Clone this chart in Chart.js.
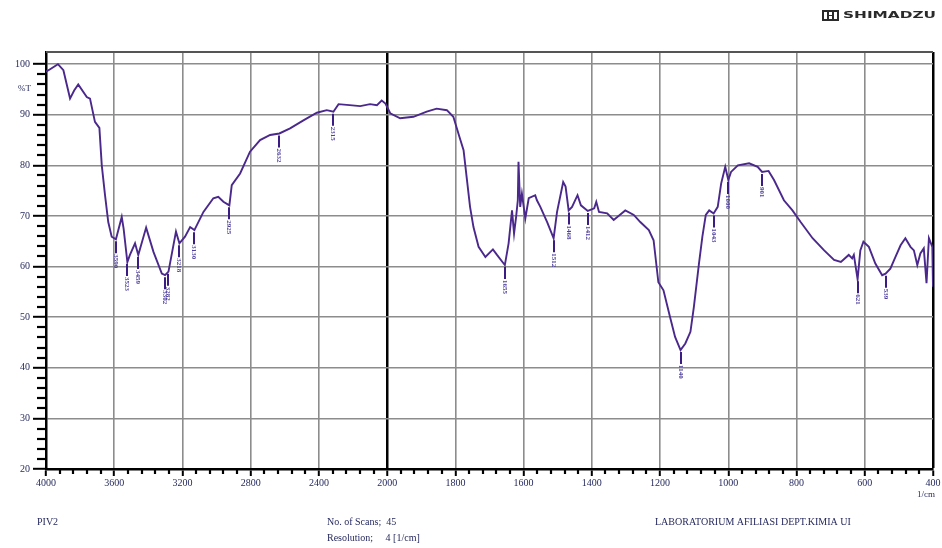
<!DOCTYPE html>
<html>
<head>
<meta charset="utf-8">
<script src="https://cdn.jsdelivr.net/npm/chart.js@4.4.1/dist/chart.umd.min.js"></script>
<style>
  html, body { margin: 0; padding: 0; background: #fff; }
  #wrap { position: relative; width: 942px; height: 548px; }
  canvas { display: block; }
</style>
</head>
<body>
<div id="wrap"><canvas id="ir" width="942" height="548"></canvas></div>
<script>
// FTIR spectrum, sample PIV2 (wavenumber in 1/cm, transmittance in %T)
const wavenumbers = [
  4000, 3976, 3930, 3898, 3859, 3835, 3811, 3761, 3742, 3713, 3687, 3673, 3654, 3635, 3615,
  3590, 3556, 3545, 3523, 3508, 3478, 3459, 3413, 3370, 3321, 3302, 3282, 3238, 3218, 3185,
  3155, 3130, 3077, 3019, 2990, 2960, 2925, 2911, 2862, 2804, 2745, 2686, 2632, 2569, 2491,
  2412, 2354, 2315, 2285, 2220, 2158, 2100, 2060, 2032, 2010, 1991, 1962, 1923, 1884, 1855,
  1825, 1806, 1788, 1776, 1766, 1757, 1747, 1732, 1712, 1690, 1678, 1662, 1655, 1644, 1634,
  1628, 1622, 1617, 1615, 1610, 1605, 1595, 1585, 1566, 1561, 1551, 1531, 1512, 1502, 1484,
  1477, 1468, 1458, 1442, 1432, 1412, 1393, 1387, 1379, 1355, 1336, 1302, 1277, 1258, 1233,
  1219, 1205, 1190, 1171, 1156, 1140, 1126, 1111, 1101, 1086, 1076, 1066, 1056, 1043, 1031,
  1021, 1009, 1000, 992, 972, 939, 914, 901, 882, 866, 837, 812, 788, 753, 719,
  690, 670, 647, 637, 632, 621, 613, 604, 588, 569, 549, 539, 525, 510, 495,
  481, 466, 456, 446, 437, 427, 419, 412, 402, 400
];
const transmittance = [
  98.5, 99.0, 100.0, 98.8, 93.2, 94.8, 96.0, 93.5, 93.2, 88.6, 87.4, 80.0, 74.1, 68.8, 65.9,
  65.4, 69.8, 67.5, 60.9, 62.3, 64.6, 62.3, 67.7, 62.9, 58.6, 58.3, 59.0, 66.9, 64.6, 65.9,
  67.8, 67.2, 70.8, 73.5, 73.8, 72.8, 72.1, 76.1, 78.4, 82.7, 85.0, 86.0, 86.3, 87.3, 88.9,
  90.4, 90.9, 90.6, 92.1, 91.9, 91.7, 92.1, 91.9, 92.8, 92.2, 90.3, 89.3, 89.6, 90.6, 91.2,
  90.9, 89.6, 85.6, 83.0, 77.1, 71.8, 67.8, 63.9, 61.9, 63.4, 62.3, 60.9, 60.3, 64.6, 71.1,
  66.5, 69.8, 73.1, 80.7, 71.8, 74.4, 69.5, 73.5, 74.1, 73.1, 71.8, 68.8, 65.6, 70.8, 76.7,
  75.8, 71.1, 71.8, 74.1, 72.1, 71.0, 71.5, 72.8, 70.8, 70.5, 69.2, 71.1, 70.2, 68.8, 67.2,
  65.2, 56.9, 55.3, 50.1, 46.1, 43.5, 44.8, 47.1, 52.0, 60.6, 65.9, 70.2, 71.1, 70.5, 71.8,
  76.4, 79.7, 77.1, 78.7, 80.0, 80.4, 79.7, 78.7, 78.9, 77.1, 73.1, 71.1, 68.8, 65.6, 63.2,
  61.3, 60.9, 62.3, 61.6, 62.3, 57.5, 63.2, 64.9, 63.9, 60.6, 58.3, 58.6, 59.6, 61.9, 64.2,
  65.6, 63.9, 63.2, 60.3, 62.6, 63.6, 56.7, 65.6, 63.9, 56.0
];
// Picked absorption bands (each one is a point of the spectrum above)
const peakWavenumbers = [
  3590, 3523, 3459, 3302, 3282, 3218, 3130, 2925, 2632, 2315,
  1655, 1512, 1468, 1412, 1140, 1043, 1000, 901, 621, 539
];
const xTickLabels = ['4000', '3600', '3200', '2800', '2400', '2000', '1800',
                     '1600', '1400', '1200', '1000', '800', '600', '400'];
const yTickValues = [20, 30, 40, 50, 60, 70, 80, 90, 100];

// Two-segment wavenumber axis: 400 1/cm per division above 2000, 200 1/cm per division below
function toAxis(w) {
  return w >= 2000 ? (4000 - w) / 400 : 5 + (2000 - w) / 200;
}

const INK = '#262a5e';
const CURVE = '#4a288c';
const SERIF = '"Liberation Serif", "DejaVu Serif", serif';

const spectrum = wavenumbers.map((w, i) => ({ x: toAxis(w), y: transmittance[i] }));

const framePlugin = {
  id: 'frame',
  beforeDatasetsDraw(chart) {
    const { ctx, chartArea: a, scales: { x, y } } = chart;
    ctx.save();
    // top frame line
    ctx.strokeStyle = '#555';
    ctx.lineWidth = 2;
    ctx.beginPath();
    ctx.moveTo(a.left, a.top);
    ctx.lineTo(a.right, a.top);
    ctx.stroke();
    // minor ticks on the wavenumber axis (5 subdivisions)
    ctx.strokeStyle = '#000';
    ctx.lineWidth = 2.2;
    for (let i = 0; i < xTickLabels.length - 1; i++) {
      for (let k = 1; k < 5; k++) {
        const px = Math.round(x.getPixelForValue(i + k / 5));
        ctx.beginPath();
        ctx.moveTo(px, a.bottom);
        ctx.lineTo(px, a.bottom + 5);
        ctx.stroke();
      }
    }
    // minor ticks on the transmittance axis (every 2 %T)
    for (let v = 22; v < 102; v += 2) {
      if (v % 10 === 0) continue;
      const py = Math.round(y.getPixelForValue(v));
      ctx.beginPath();
      ctx.moveTo(a.left - 9, py);
      ctx.lineTo(a.left, py);
      ctx.stroke();
    }
    ctx.restore();
  },
  afterDatasetsDraw(chart) {
    const { ctx, scales: { x, y } } = chart;
    ctx.save();
    // band markers with their wavenumbers
    peakWavenumbers.forEach(w => {
      const i = wavenumbers.indexOf(w);
      const px = Math.round(x.getPixelForValue(toAxis(w)));
      const py = y.getPixelForValue(transmittance[i]);
      ctx.strokeStyle = '#3a1c84';
      ctx.lineWidth = 2;
      ctx.beginPath();
      ctx.moveTo(px, py + 2);
      ctx.lineTo(px, py + 14);
      ctx.stroke();
      ctx.save();
      ctx.translate(px, py + 15);
      ctx.rotate(Math.PI / 2);
      ctx.fillStyle = '#4f3f9c';
      ctx.font = 'bold 7px ' + SERIF;
      ctx.textAlign = 'left';
      ctx.textBaseline = 'middle';
      ctx.fillText(String(w), 0, 0);
      ctx.restore();
    });
    ctx.restore();
  },
  afterDraw(chart) {
    const { ctx, chartArea: a, scales: { y } } = chart;
    ctx.save();
    ctx.fillStyle = INK;
    ctx.textBaseline = 'middle';
    ctx.font = '9px ' + SERIF;
    ctx.textAlign = 'right';
    ctx.fillText('%T', 31, y.getPixelForValue(100) + 24);
    ctx.fillText('1/cm', a.right + 2, a.bottom + 26);

    ctx.textAlign = 'left';
    ctx.font = '10px ' + SERIF;
    ctx.fillText('PIV2', 37, 522);
    ctx.fillText('No. of Scans;  45', 327, 522);
    ctx.fillText('Resolution;     4 [1/cm]', 327, 538);
    ctx.fillText('LABORATORIUM AFILIASI DEPT.KIMIA UI', 655, 522);

    // instrument maker mark
    ctx.fillStyle = '#2a2a2a';
    ctx.fillRect(822, 10, 17, 11);
    ctx.fillStyle = '#fff';
    ctx.fillRect(824, 12, 3, 7);
    ctx.fillRect(834, 12, 3, 7);
    ctx.fillRect(829, 12, 3, 3);
    ctx.fillRect(829, 16, 3, 3);
    ctx.fillStyle = '#2a2a2a';
    ctx.font = 'bold 11px "DejaVu Sans", sans-serif';
    const label = 'SHIMADZU';
    const wTxt = ctx.measureText(label).width;
    ctx.save();
    ctx.translate(843, 16);
    ctx.scale(93 / wTxt, 0.85);
    ctx.fillText(label, 0, 0);
    ctx.restore();
    ctx.restore();
  }
};

new Chart(document.getElementById('ir'), {
  type: 'line',
  data: {
    datasets: [{
      data: spectrum,
      borderColor: CURVE,
      borderWidth: 1.9,
      pointRadius: 0,
      tension: 0,
      fill: false
    }]
  },
  options: {
    responsive: false,
    animation: false,
    devicePixelRatio: 1,
    layout: { padding: { top: 52, right: 9, left: 0, bottom: 0 } },
    plugins: { legend: { display: false }, tooltip: { enabled: false } },
    scales: {
      x: {
        type: 'linear',
        min: 0,
        max: xTickLabels.length - 1,
        afterFit(scale) { scale.height = 79; },
        border: { color: '#000', width: 2.5 },
        grid: {
          color: c => (c.tick && (c.tick.value === 5 || c.tick.value === 13)) ? '#000' : '#8c8c8c',
          lineWidth: c => (c.tick && (c.tick.value === 5 || c.tick.value === 13)) ? 2.5 : 1.6,
          tickColor: '#000',
          tickWidth: 2,
          tickLength: 7
        },
        ticks: {
          stepSize: 1,
          autoSkip: false,
          maxRotation: 0,
          padding: 1,
          color: INK,
          font: { family: SERIF, size: 10 },
          callback: v => xTickLabels[Math.round(v)]
        }
      },
      y: {
        min: 20,
        max: 102.4,
        afterFit(scale) { scale.width = 46; },
        afterBuildTicks(scale) { scale.ticks = yTickValues.map(v => ({ value: v })); },
        border: { color: '#000', width: 2.5 },
        grid: {
          color: '#8c8c8c',
          lineWidth: 1.6,
          tickColor: '#000',
          tickWidth: 2,
          tickLength: 13
        },
        ticks: {
          padding: 3,
          color: INK,
          font: { family: SERIF, size: 10 }
        }
      }
    }
  },
  plugins: [framePlugin]
});
</script>
</body>
</html>
